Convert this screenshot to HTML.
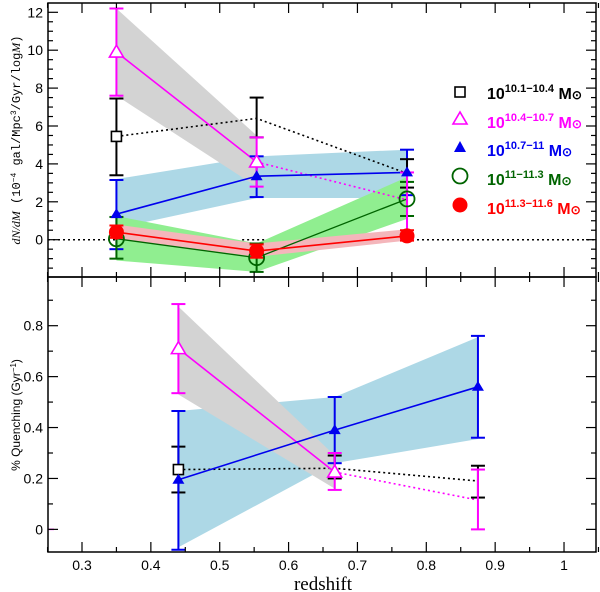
<!DOCTYPE html>
<html><head><meta charset="utf-8"><style>
body{margin:0;background:#fff;}
svg{display:block;font-family:"Liberation Sans",sans-serif;}
</style></head><body>
<svg id="c" width="600" height="592"></svg>
<script>
// ---- data ----
const topZ=[0.35,0.5536,0.772];
const blackTopVal=[5.45,6.4,3.5];
const blackTopLo=[3.4,5.4,2.75];
const blackTopHi=[7.45,7.5,4.25];
const magTopVal=[9.9,4.1,2.1];
const magTopLo=[7.6,2.8,0.0];
const magTopHi=[12.2,5.4,3.55];
const magBandLo=[7.6,2.8];
const magBandHi=[12.2,5.5];
const blueTopVal=[1.35,3.35,3.55];
const blueTopLo=[-0.5,2.25,2.35];
const blueTopHi=[3.15,4.4,4.75];
const blueBandLo=[0.6,2.2,2.2];
const blueBandHi=[3.2,4.4,4.75];
const greenTopVal=[0.05,-0.95,2.15];
const greenTopLo=[-1.0,-1.7,1.25];
const greenTopHi=[1.2,-0.2,3.05];
const greenBandLo=[-1.1,-1.7,1.1];
const greenBandHi=[1.25,-0.2,3.3];
const redTopVal=[0.4,-0.6,0.2];
const redTopLo=[0.1,-0.95,-0.05];
const redTopHi=[0.75,-0.25,0.5];
const redBandLo=[0.05,-0.9,-0.05];
const redBandHi=[0.8,-0.2,0.55];
const botZ=[0.44,0.667,0.875];
const magBotVal=[0.71,0.225,0.115];
const magBotLo=[0.535,0.155,0.0];
const magBotHi=[0.885,0.3,0.235];
const magBotBandLo=[0.53,0.16];
const magBotBandHi=[0.875,0.29];
const blueBotVal=[0.195,0.39,0.56];
const blueBotLo=[-0.08,0.26,0.36];
const blueBotHi=[0.465,0.52,0.76];
const blueBotBandLo=[-0.07,0.26,0.355];
const blueBotBandHi=[0.465,0.52,0.755];
const blackBotVal=[0.235,0.24,0.19];
const blackBotLo=[0.145,0.2,0.125];
const blackBotHi=[0.325,0.29,0.25];
const xTicks=[0.3,0.4,0.5,0.6,0.7,0.8,0.9,1];
const topYTicks=[0,2,4,6,8,10,12];
const botYTicks=[0,0.2,0.4,0.6,0.8];

// ---- axes ----
const X0=48,X1=596;
const xs=z=>82+(z-0.3)*688.6;
const yt=v=>239.7-v*18.95;
const yb=v=>325.7+(0.8-v)*254.6;
const T0=3,T1=277,B0=277,B1=552;
const svg=document.getElementById('c');
const NS='http://www.w3.org/2000/svg';
function mk(tag,attrs,name,parent){
  const e=document.createElementNS(NS,tag);
  for(const k in attrs)e.setAttribute(k,attrs[k]);
  
  
  (parent||svg).appendChild(e);return e;
}
function band(zs,lo,hi,ys,color,name){
  const n=lo.length;let pts=[];
  for(let i=0;i<n;i++)pts.push(xs(zs[i])+','+ys(hi[i]));
  for(let i=n-1;i>=0;i--)pts.push(xs(zs[i])+','+ys(lo[i]));
  mk('polygon',{points:pts.join(' '),fill:color},name);
}
function line(zs,vals,ys,color,dash,name,w){
  const pts=zs.map((z,i)=>xs(z)+','+ys(vals[i])).join(' ');
  const a={points:pts,fill:'none',stroke:color,'stroke-width':w||1.6};
  if(dash)a['stroke-dasharray']='2,3';
  mk('polyline',a,name);
}
function err(zs,lo,hi,ys,color,name){
  zs.forEach((z,i)=>{
    const x=xs(z);
    mk('line',{x1:x,x2:x,y1:ys(lo[i]),y2:ys(hi[i]),stroke:color,'stroke-width':2},name+'-bar');
    mk('line',{x1:x-7,x2:x+7,y1:ys(lo[i]),y2:ys(lo[i]),stroke:color,'stroke-width':2},name+'-cap');
    mk('line',{x1:x-7,x2:x+7,y1:ys(hi[i]),y2:ys(hi[i]),stroke:color,'stroke-width':2},name+'-cap');
  });
}
function marker(type,x,y,color,name){
  if(type==='sq')mk('rect',{x:x-5,y:y-5,width:10,height:10,fill:'#fff',stroke:color,'stroke-width':1.6},name);
  if(type==='otri')mk('polygon',{points:`${x},${y-7} ${x-7},${y+5} ${x+7},${y+5}`,fill:'#fff',stroke:color,'stroke-width':1.6},name);
  if(type==='ftri')mk('polygon',{points:`${x},${y-6} ${x-6},${y+4} ${x+6},${y+4}`,fill:color},name);
  if(type==='ocirc')mk('circle',{cx:x,cy:y,r:7.5,fill:'none',stroke:color,'stroke-width':1.8},name);
  if(type==='fcirc')mk('circle',{cx:x,cy:y,r:7.5,fill:color},name);
}
const BLK='#000',MAG='#ff00ff',BLU='#0000ee',GRN='#006400',RED='#ff0000';

// ---- top panel ----
band(topZ,blueBandLo,blueBandHi,yt,'#add8e6','top-blue-band');
band(topZ.slice(0,2),magBandLo,magBandHi,yt,'#d3d3d3','top-grey-band');
band(topZ,greenBandLo,greenBandHi,yt,'#90ee90','top-green-band');
band(topZ,redBandLo,redBandHi,yt,'#f4b6bb','top-red-band');
mk('line',{x1:X0,x2:xs(topZ[0]),y1:yt(0),y2:yt(0),stroke:'#000','stroke-dasharray':'2,3','stroke-width':1.5},'zero-line');
mk('line',{x1:xs(0.55)-12,x2:xs(0.55)+12,y1:yt(0),y2:yt(0),stroke:'#000','stroke-dasharray':'2,3','stroke-width':1.5},'zero-line');
mk('line',{x1:xs(topZ[2]),x2:X1,y1:yt(0),y2:yt(0),stroke:'#000','stroke-dasharray':'2,3','stroke-width':1.5},'zero-line');
line(topZ,blackTopVal,yt,BLK,true,'top-black-line');
line(topZ.slice(0,2),magTopVal.slice(0,2),yt,MAG,false,'top-magenta-line');
line(topZ.slice(1),magTopVal.slice(1),yt,MAG,true,'top-magenta-dotted');
line(topZ,blueTopVal,yt,BLU,false,'top-blue-line');
line(topZ,greenTopVal,yt,GRN,false,'top-green-line',1.3);
line(topZ,redTopVal,yt,RED,false,'top-red-line');
err(topZ,blueTopLo,blueTopHi,yt,BLU,'top-blue-err');
err(topZ,greenTopLo,greenTopHi,yt,GRN,'top-green-err');
err(topZ,blackTopLo,blackTopHi,yt,BLK,'top-black-err');
err(topZ,magTopLo,magTopHi,yt,MAG,'top-magenta-err');
err(topZ,redTopLo,redTopHi,yt,RED,'top-red-err');
marker('sq',xs(topZ[0]),yt(blackTopVal[0]),BLK,'top-black-marker');
topZ.forEach((z,i)=>{
  if(i<2)marker('otri',xs(z),yt(magTopVal[i]),MAG,'top-magenta-marker');
  marker('ftri',xs(z),yt(blueTopVal[i]),BLU,'top-blue-marker');
  marker('ocirc',xs(z),yt(greenTopVal[i]),GRN,'top-green-marker');
  marker('fcirc',xs(z),yt(redTopVal[i]),RED,'top-red-marker');
});

// ---- bottom panel ----
band(botZ,blueBotBandLo,blueBotBandHi,yb,'#add8e6','bottom-blue-band');
band(botZ.slice(0,2),magBotBandLo,magBotBandHi,yb,'#d3d3d3','bottom-grey-band');
line(botZ,blackBotVal,yb,BLK,true,'bottom-black-line');
line(botZ.slice(0,2),magBotVal.slice(0,2),yb,MAG,false,'bottom-magenta-line');
line(botZ.slice(1),magBotVal.slice(1),yb,MAG,true,'bottom-magenta-dotted');
line(botZ,blueBotVal,yb,BLU,false,'bottom-blue-line');
err(botZ,blackBotLo,blackBotHi,yb,BLK,'bottom-black-err');
err(botZ,blueBotLo,blueBotHi,yb,BLU,'bottom-blue-err');
err(botZ,magBotLo,magBotHi,yb,MAG,'bottom-magenta-err');
marker('sq',xs(botZ[0]),yb(blackBotVal[0]),BLK,'bottom-black-marker');
botZ.forEach((z,i)=>{
  if(i<2)marker('otri',xs(z),yb(magBotVal[i]),MAG,'bottom-magenta-marker');
  marker('ftri',xs(z),yb(blueBotVal[i]),BLU,'bottom-blue-marker');
});
mk('line',{x1:X0,x2:X0+6,y1:yb(0),y2:yb(0),stroke:MAG,'stroke-width':1.5},'magenta-tick');

// ---- frames & ticks ----
function frame(y0,y1,ys,major,minorStep,vmin,vmax,name){
  mk('rect',{x:X0,y:y0,width:X1-X0,height:y1-y0,fill:'none',stroke:'#000','stroke-width':1.5},name+'-frame');
  for(let z=0.25;z<=1.051;z+=0.05){
    const x=xs(z),big=Math.abs(Math.round(z*10)-z*10)<1e-6,l=big?10:5;
    mk('line',{x1:x,x2:x,y1:y1,y2:y1-l,stroke:'#000','stroke-width':1.2},name+'-xtick');
    mk('line',{x1:x,x2:x,y1:y0,y2:y0+l,stroke:'#000','stroke-width':1.2},name+'-xtick');
  }
  for(let v=Math.ceil(vmin/minorStep)*minorStep;v<=vmax+1e-9;v+=minorStep){
    const y=ys(v);if(y<y0||y>y1)continue;
    const big=major.some(m=>Math.abs(m-v)<1e-6),l=big?10:5;
    mk('line',{x1:X0,x2:X0+l,y1:y,y2:y,stroke:'#000','stroke-width':1.2},name+'-ytick');
    mk('line',{x1:X1,x2:X1-l,y1:y,y2:y,stroke:'#000','stroke-width':1.2},name+'-ytick');
  }
}
frame(T0,T1,yt,topYTicks,0.5,-2,12.5,'top');
frame(B0,B1,yb,botYTicks,0.1,-0.1,1.0,'bottom');
topYTicks.forEach(v=>{const t=mk('text',{x:43,y:yt(v)+5,'text-anchor':'end','font-size':14},'top-y-tick-label');t.textContent=v;});
botYTicks.forEach(v=>{const t=mk('text',{x:43,y:yb(v)+5,'text-anchor':'end','font-size':14},'bottom-y-tick-label');t.textContent=v===0?'0':v.toFixed(1);});
xTicks.forEach(v=>{const t=mk('text',{x:xs(v),y:570,'text-anchor':'middle','font-size':14},'x-tick-label');t.textContent=v;});
</script>
<svg width="600" height="592" style="position:absolute;left:0;top:0;font-family:'Liberation Serif',serif">
<text x="323" y="590" text-anchor="middle" font-size="19">redshift</text>
<text transform="translate(20,140) rotate(-90)" text-anchor="middle" font-size="12" font-family="Liberation Mono,monospace"><tspan font-style="italic" font-family="Liberation Serif,serif">dN/dM</tspan> (10<tspan dy="-4" font-size="8">−4</tspan><tspan dy="4"> gal/Mpc</tspan><tspan dy="-4" font-size="8">3</tspan><tspan dy="4">/Gyr/log</tspan><tspan font-style="italic" font-family="Liberation Serif,serif">M</tspan>)</text>
<text transform="translate(20,415) rotate(-90)" text-anchor="middle" font-size="12" font-family="Liberation Sans,sans-serif">% Quenching (Gyr<tspan dy="-4" font-size="8">−1</tspan><tspan dy="4">)</tspan></text>
<g font-family="Liberation Sans,sans-serif" font-size="16" font-weight="bold">
<rect x="455" y="87" width="10" height="10" fill="none" stroke="#000" stroke-width="1.6"/>
<text x="487" y="99" fill="#000">10<tspan dy="-7" font-size="11">10.1−10.4</tspan><tspan dy="7"> M</tspan><tspan font-size="12">⊙</tspan></text>
<polygon points="460,112 453,124 467,124" fill="none" stroke="#ff00ff" stroke-width="1.6"/>
<text x="487" y="128" fill="#ff00ff">10<tspan dy="-7" font-size="11">10.4−10.7</tspan><tspan dy="7"> M</tspan><tspan font-size="12">⊙</tspan></text>
<polygon points="460,141 454,152 466,152" fill="#0000ee"/>
<text x="487" y="156" fill="#0000ee">10<tspan dy="-7" font-size="11">10.7−11</tspan><tspan dy="7"> M</tspan><tspan font-size="12">⊙</tspan></text>
<circle cx="460" cy="176" r="7.5" fill="none" stroke="#006400" stroke-width="1.8"/>
<text x="487" y="185" fill="#006400">10<tspan dy="-7" font-size="11">11−11.3</tspan><tspan dy="7"> M</tspan><tspan font-size="12">⊙</tspan></text>
<circle cx="460" cy="205" r="7.5" fill="#ff0000"/>
<text x="487" y="214" fill="#ff0000">10<tspan dy="-7" font-size="11">11.3−11.6</tspan><tspan dy="7"> M</tspan><tspan font-size="12">⊙</tspan></text>
</g>
</svg>
</body></html>
